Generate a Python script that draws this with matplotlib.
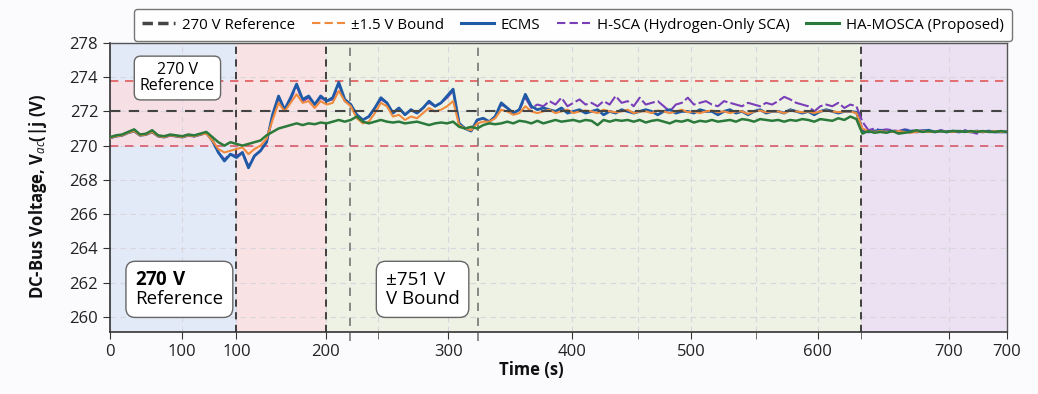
import matplotlib
matplotlib.use("Agg")
import matplotlib.pyplot as plt
from matplotlib.lines import Line2D
import numpy as np

plt.rcParams['font.family'] = ['Open Sans', 'DejaVu Sans']
plt.rcParams['mathtext.fontset'] = 'custom'
plt.rcParams['mathtext.rm'] = 'Open Sans'
plt.rcParams['mathtext.bf'] = 'Open Sans:bold'
plt.rcParams['mathtext.it'] = 'Open Sans:italic'

# time axis (plot units), sampled every 5
t = np.arange(0, 750, 5)

ha_mosca = [
    270.5, 270.6, 270.65, 270.8, 270.95, 270.65, 270.7, 270.9, 270.6, 270.55,
    270.65, 270.6, 270.55, 270.65, 270.6, 270.7, 270.8, 270.5, 270.2, 270.0,
    270.2, 270.1, 270.0, 270.1, 270.2, 270.3, 270.6, 270.8, 271.0, 271.1,
    271.2, 271.3, 271.2, 271.3, 271.25, 271.35, 271.3, 271.4, 271.5, 271.4,
    271.5, 271.7, 271.4, 271.3, 271.4, 271.5, 271.4, 271.35, 271.4, 271.3,
    271.35, 271.4, 271.3, 271.2, 271.3, 271.35, 271.3, 271.4, 271.1, 271.0,
    271.1, 271.0, 271.2, 271.3, 271.25, 271.3, 271.4, 271.3, 271.45, 271.4,
    271.3, 271.45, 271.3, 271.4, 271.5, 271.4, 271.45, 271.5, 271.4, 271.5,
    271.45, 271.2, 271.5, 271.4, 271.5, 271.45, 271.5, 271.4, 271.5, 271.35,
    271.45, 271.5, 271.4, 271.3, 271.45, 271.4, 271.5, 271.35, 271.45, 271.4,
    271.5, 271.4, 271.45, 271.5, 271.4, 271.55, 271.5, 271.4, 271.55, 271.5,
    271.45, 271.5, 271.4, 271.5, 271.45, 271.55, 271.5, 271.4, 271.55, 271.5,
    271.45, 271.6, 271.5, 271.7, 271.55, 270.7, 270.85, 270.75, 270.8, 270.75,
    270.85, 270.7, 270.75, 270.8, 270.9, 270.8, 270.85, 270.8, 270.85, 270.8,
    270.85, 270.85, 270.8, 270.85, 270.8, 270.85, 270.8, 270.8, 270.85, 270.8,
]

ecms = [
    270.45, 270.55, 270.6, 270.75, 270.85, 270.6, 270.65, 270.8, 270.55, 270.5,
    270.6, 270.55, 270.5, 270.6, 270.55, 270.65, 270.75, 270.3, 269.6, 269.1,
    269.5, 269.3, 269.6, 268.7, 269.4, 269.7, 270.2, 271.8, 272.9, 272.1,
    272.8, 273.6, 272.7, 272.9, 272.4, 272.9, 272.6, 272.8, 273.7, 272.7,
    272.4, 271.8, 271.5, 271.7, 272.2, 272.8, 272.5, 271.9, 272.2, 271.8,
    272.1, 271.9, 272.2, 272.6, 272.3, 272.5, 272.9, 273.3, 271.3, 271.0,
    270.85, 271.5, 271.6, 271.4, 271.7, 272.5, 272.2, 271.9, 272.1, 273.0,
    272.3, 272.1, 272.2, 272.1, 272.0, 272.2, 271.9, 272.0, 272.1, 271.9,
    272.0, 272.1, 271.8, 272.0, 271.9, 272.1, 272.0, 271.9, 272.0, 272.1,
    272.0, 271.8, 272.0, 272.1, 271.9, 272.0, 272.0, 271.9, 272.1, 272.0,
    272.0, 271.8, 272.0, 272.1, 271.9, 272.0, 271.8, 272.0, 272.1, 271.9,
    272.0, 272.0, 271.9, 272.1, 272.0, 271.9, 272.0, 271.8, 272.0, 272.1,
    272.0, 271.9, 272.0, 272.0, 271.95, 270.9, 270.8, 270.85, 270.9, 270.8,
    270.85, 270.8, 270.9, 270.85, 270.8, 270.85, 270.9, 270.8, 270.85, 270.8,
    270.85, 270.8, 270.85, 270.8, 270.85, 270.8, 270.85, 270.8, 270.8, 270.8,
]

bound_trace = [
    270.45, 270.55, 270.6, 270.75, 270.85, 270.6, 270.65, 270.8, 270.55, 270.5,
    270.6, 270.55, 270.5, 270.6, 270.55, 270.65, 270.7, 270.3, 269.8, 269.6,
    269.7, 269.8, 269.9, 269.5, 269.8, 270.0, 270.4, 271.5, 272.5, 272.0,
    272.5, 273.0, 272.5, 272.6, 272.2, 272.6, 272.4, 272.5, 273.2, 272.6,
    272.3, 271.6, 271.3, 271.4, 271.9, 272.5, 272.3, 271.7, 271.8, 271.5,
    271.7, 271.6, 271.9, 272.2, 272.0, 272.1, 272.3, 272.6, 271.2, 271.0,
    270.9, 271.3, 271.4, 271.4, 271.6, 272.1, 272.0, 271.8, 271.9, 272.3,
    272.0, 271.9, 272.0, 272.1, 271.9, 272.0, 272.1, 271.9, 272.0, 272.05,
    272.0, 271.9, 272.1, 272.0, 271.95, 272.0, 272.1, 271.9, 272.0, 272.0,
    271.9, 272.05, 272.0, 271.9, 272.0, 272.1, 271.95, 272.0, 271.9, 272.0,
    272.05, 271.95, 272.0, 271.9, 272.0, 272.0, 271.85, 272.0, 272.05, 271.95,
    272.0, 272.0, 271.9, 272.05, 272.0, 271.95, 272.0, 271.9, 272.0, 272.05,
    272.0, 271.95, 272.0, 272.0, 271.9, 271.0, 270.85, 270.8, 270.85, 270.8,
    270.8, 270.85, 270.8, 270.75, 270.8, 270.85, 270.8, 270.8, 270.85, 270.8,
    270.8, 270.85, 270.8, 270.8, 270.85, 270.8, 270.8, 270.85, 270.8, 270.8,
]

h_sca = [
    270.45, 270.55, 270.6, 270.75, 270.85, 270.6, 270.65, 270.8, 270.55, 270.5,
    270.6, 270.55, 270.5, 270.6, 270.55, 270.65, 270.75, 270.3, 269.6, 269.2,
    269.5, 269.4, 269.6, 268.8, 269.4, 269.7, 270.2, 271.7, 272.8, 272.1,
    272.7, 273.5, 272.6, 272.8, 272.4, 272.8, 272.6, 272.7, 273.6, 272.6,
    272.4, 271.8, 271.5, 271.7, 272.2, 272.7, 272.5, 271.9, 272.2, 271.8,
    272.1, 271.9, 272.2, 272.5, 272.3, 272.5, 272.8, 273.2, 271.3, 271.0,
    270.9, 271.5, 271.6, 271.4, 271.7, 272.4, 272.2, 271.9, 272.1, 272.8,
    272.2, 272.4, 272.3, 272.6, 272.4, 272.8, 272.3, 272.5, 272.7, 272.4,
    272.5, 272.3, 272.6, 272.4, 272.9, 272.5, 272.6, 272.3, 272.8, 272.4,
    272.5, 272.6, 272.3, 272.0, 272.4, 272.5, 272.8, 272.4, 272.5, 272.6,
    272.4, 272.3, 272.6, 272.5, 272.4, 272.3, 272.5, 272.4, 272.3, 272.5,
    272.4, 272.6, 272.85, 272.7, 272.5, 272.4, 272.3, 272.0, 272.3, 272.4,
    272.3, 272.5, 272.2, 272.4, 272.3, 271.4, 270.9, 271.0, 270.9, 270.95,
    270.9, 270.85, 270.95, 270.9, 270.85, 270.9, 270.85, 270.8, 270.9, 270.85,
    270.8, 270.85, 270.9, 270.8, 270.7, 270.85, 270.8, 270.85, 270.8, 270.8,
]

ref_v = 272.0
bound_hi = 273.8
bound_lo = 270.0

# phase boundaries (plot units)
phase_edges = [0, 105, 179, 624, 745]
phase_colors = ['#e3eaf7', '#f9e2e4', '#edf2e5', '#ece1f2']
marker_lines = [105, 179, 624]
aux_lines = [199, 306]

y_ticks = [260, 262, 264, 266, 268, 270, 272, 274, 276]
y_labels = ['260', '262', '264', '266', '268', '270', '272', '274', '278']
x_ticks = [0, 60, 105, 179, 281, 384, 483, 588, 697, 745]
x_labels = ['0', '100', '100', '200', '300', '400', '500', '600', '700', '700']
x_minor = [223, 439, 537, 624]

c_blue = '#1f5aa6'
c_green = '#2b7a3b'
c_orange = '#f08a3c'
c_purple = '#7a3fb8'

fig = plt.figure(figsize=(10.38, 3.94), dpi=100, facecolor='#fbfbfd')
ax = fig.add_axes([0.106, 0.157, 0.864, 0.734])

for i in range(len(phase_colors)):
    ax.axvspan(phase_edges[i], phase_edges[i + 1], color=phase_colors[i], zorder=0, lw=0)
ax.fill_between([phase_edges[0], phase_edges[1]], bound_lo, bound_hi, color='#f7dfe6', zorder=0.5, lw=0)

ax.grid(True, which='both', color='#d6d6dc', ls=(0, (5, 4)), lw=0.8, zorder=1)

ax.axhline(bound_hi, color='#e05a5a', lw=1.2, ls=(0, (5, 4)), zorder=2)
ax.axhline(bound_lo, color='#d85a6a', lw=1.2, ls=(0, (5, 4)), zorder=2)

for xv in marker_lines:
    ax.axvline(xv, color='#333333', lw=1.3, ls=(0, (4, 3)), zorder=2)
for xv in aux_lines:
    ax.axvline(xv, ymin=-0.03, ymax=1.0, color='#777777', lw=1.2, ls=(0, (5, 4)), zorder=2, clip_on=False)

ax.plot(t, h_sca, color=c_purple, lw=1.5, ls=(0, (7, 1.5)), zorder=3)
ax.plot(t, ecms, color=c_blue, lw=2.0, zorder=4)
ax.plot(t, bound_trace, color=c_orange, lw=1.5, zorder=5)
ax.axhline(ref_v, color='#444444', lw=1.5, ls=(0, (5, 4)), zorder=6)
ax.plot(t, ha_mosca, color=c_green, lw=1.8, zorder=7)

ax.set_xlim(0, 745)
ax.set_ylim(259.1, 276.0)
ax.set_yticks(y_ticks)
ax.set_yticklabels(y_labels)
ax.set_xticks(x_ticks)
ax.set_xticklabels(x_labels)
ax.set_xticks(x_minor, minor=True)
ax.tick_params(axis='both', which='major', labelsize=12, length=5, color='#333333', labelcolor='#222222')
ax.tick_params(axis='x', which='minor', length=5, color='#555555')
for s in ['left', 'bottom']:
    ax.spines[s].set_color('#333333')
    ax.spines[s].set_linewidth(1.2)
for s in ['top', 'right']:
    ax.spines[s].set_color('#555555')
    ax.spines[s].set_linewidth(1.0)

ax.set_ylabel(r'DC-Bus Voltage, $\mathbf{V}_{\mathit{ac}}$(|j (V)', fontsize=12, fontweight='bold', color='#111111')
ax.yaxis.set_label_coords(-0.068, 0.47)
ax.set_xlabel('Time (s)', fontsize=12, fontweight='bold', color='#111111')
ax.xaxis.set_label_coords(0.47, -0.1)

box = dict(boxstyle='round,pad=0.35,rounding_size=0.4', fc='white', ec='#666666', lw=1.0)
ax.text(56, 273.95, '270 V\nReference', ha='center', va='center', fontsize=11.5,
        linespacing=1.05, bbox=box, zorder=8)
box2 = dict(boxstyle='round,pad=0.5,rounding_size=0.5', fc='white', ec='#666666', lw=1.0)
ax.text(21, 261.6, r'$\mathbf{270\ V}$' + '\nReference', ha='left', va='center', fontsize=13.5,
        linespacing=1.1, bbox=box2, zorder=8)
ax.text(229, 261.6, '±751 V\nV Bound', ha='left', va='center', fontsize=13.5,
        linespacing=1.1, bbox=box2, zorder=8)

handles = [
    Line2D([], [], color='#444444', lw=2.5, ls=(0, (3, 1.5))),
    Line2D([], [], color=c_orange, lw=1.5, ls=(0, (4, 2))),
    Line2D([], [], color=c_blue, lw=2.2),
    Line2D([], [], color=c_purple, lw=1.5, ls=(0, (4, 2))),
    Line2D([], [], color=c_green, lw=2.2),
]
labels = ['270 V Reference', '±1.5 V Bound', 'ECMS', 'H-SCA (Hydrogen-Only SCA)', 'HA-MOSCA (Proposed)']
leg = fig.legend(handles, labels, loc='upper center', bbox_to_anchor=(0.552, 0.995), ncol=5,
                 fontsize=10.8, frameon=True, fancybox=True, edgecolor='#555555',
                 handlelength=2.2, columnspacing=1.1, handletextpad=0.45, borderpad=0.55)
leg.get_frame().set_linewidth(1.0)

fig.savefig('out.png', dpi=100, facecolor=fig.get_facecolor())
